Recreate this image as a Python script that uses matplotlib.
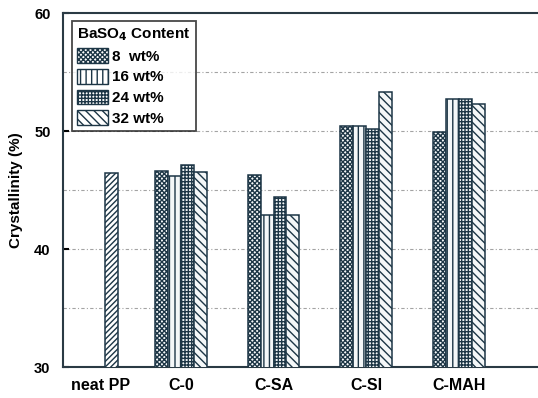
import numpy as np
import matplotlib.pyplot as plt
from matplotlib.patches import Patch

plt.rcParams['font.family'] = ['Liberation Sans', 'DejaVu Sans']
plt.rcParams['font.weight'] = 'bold'
plt.rcParams['hatch.linewidth'] = 1.0

# Crystallinity (%) by compatibiliser type and BaSO4 loading
groups = ['C-0', 'C-SA', 'C-SI', 'C-MAH']
loadings = ['8  wt%', '16 wt%', '24 wt%', '32 wt%']
neat_pp = 46.4
cryst_8 = [46.6, 46.3, 50.4, 49.9]
cryst_16 = [46.2, 42.9, 50.4, 52.7]
cryst_24 = [47.1, 44.4, 50.2, 52.7]
cryst_32 = [46.5, 42.9, 53.3, 52.3]
series = [cryst_8, cryst_16, cryst_24, cryst_32]

hatches = ['xxxxxxx', '|||', '+++++', '\\\\\\\\']
ink = '#1d3646'

fig = plt.figure(figsize=(5.38, 3.98), dpi=100)
ax = fig.add_axes([63 / 538, 31 / 398, 485 / 538, 354 / 398])

w = 0.14
x = np.arange(1, len(groups) + 1)
for i, (vals, h) in enumerate(zip(series, hatches)):
    ax.bar(x + (i - 1.5) * w, vals, width=w, bottom=0, color='#f4f7f8',
           edgecolor=ink, hatch=h, linewidth=1.1, zorder=3)

# neat PP reference bar
ax.bar(0.25, neat_pp, width=w, color='white', edgecolor=ink,
       hatch='//////', linewidth=1.1, zorder=3)

ax.set_ylim(30, 60)
ax.set_xlim(-0.27, 4.96)
ax.set_yticks([30, 40, 50, 60])
ax.set_xticks([0.13] + list(x))
ax.set_xticklabels(['neat PP'] + groups, fontsize=11.5)
ax.tick_params(axis='x', length=0, pad=8)
ax.tick_params(axis='y', direction='in', length=4, width=1.5, labelsize=10.5, pad=9)
for yv in [35, 40, 45, 50, 55]:
    ax.axhline(yv, color='#666666', linestyle=(0, (3, 2, 1, 2)), linewidth=0.8,
               alpha=0.6, zorder=1)
for s in ax.spines.values():
    s.set_linewidth(1.5)
    s.set_color('#2a3a44')
ax.spines['right'].set_visible(False)
ax.set_ylabel('Crystallinity (%)', fontsize=11, fontweight='bold', labelpad=8)

handles = [Patch(facecolor='white', edgecolor=ink, hatch=h, linewidth=1.0)
           for h in hatches]
leg = ax.legend(handles, loadings, title='BaSO$_4$ Content', loc='upper left',
                bbox_to_anchor=(9 / 485, 1 - 8 / 354), fontsize=11,
                title_fontsize=11, frameon=True, fancybox=False,
                edgecolor='#1a1a1a', handlelength=2.0, handleheight=1.1,
                handletextpad=0.3, labelspacing=0.34, borderpad=0.35,
                borderaxespad=0)
leg._legend_box.align = 'left'
leg.get_frame().set_linewidth(1.3)
leg.get_title().set_fontweight('bold')

fig.savefig('out.png', dpi=100)
